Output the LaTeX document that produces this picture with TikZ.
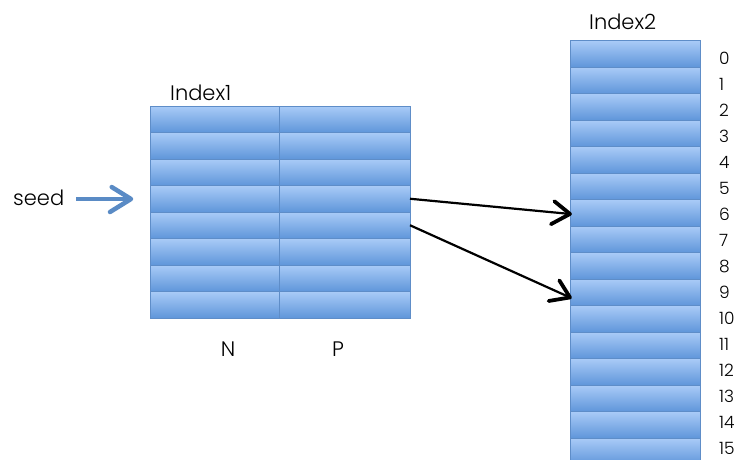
\documentclass[tikz,border=0pt]{standalone}
\usepackage{fontspec}
\setmainfont{Poppins}[UprightFont=* Light]
\usetikzlibrary{decorations.markings}
\definecolor{celltop}{HTML}{A9CBF7}
\definecolor{cellbot}{HTML}{5F96DA}
\definecolor{celledge}{HTML}{5E8DC8}
\definecolor{seedblue}{HTML}{5A8BC5}
\tikzset{
  cell/.style={draw=celledge, line width=1pt, top color=celltop, bottom color=cellbot, minimum width=130pt, minimum height=26.5pt, inner sep=0pt, outer sep=0pt, anchor=north west},
  lbl/.style={font=\fontsize{21}{24}\selectfont, text=black, inner sep=0pt, anchor=base west},
  num/.style={font=\fontsize{17}{18}\selectfont, text=black, inner sep=0pt, anchor=base west},
  chev/.style n args={3}{postaction={decorate, decoration={markings, mark=at position 1 with {\draw[line width=#3, line cap=round, line join=round] (-#1,-#2) -- (0pt,0pt) -- (-#1,#2);}}}},
  link/.style={line width=2.2pt, shorten >=1.5pt, chev={18pt}{12pt}{3.8pt}},
}
\begin{document}
\begin{tikzpicture}[x=1pt,y=-1pt]
\useasboundingbox (0,0) rectangle (744,460);
\fill[white] (0,0) rectangle (744,460);
% Index1
\foreach \r in {0,...,7}{
  \node[cell, minimum width=129pt] (n\r) at (150,{106+26.5*\r}) {};
  \node[cell, minimum width=131pt] (p\r) at (279,{106+26.5*\r}) {};
}
\node[lbl] (idx1) at (170,100.5) {Index1};
\node[lbl, anchor=base] (N) at (228,356) {N};
\node[lbl, anchor=base] (P) at (338,356) {P};
% Index2
\foreach \r in {0,...,15}{
  \node[cell] (q\r) at (570,{40.7+26.5*\r}) {};
  \node[num] (k\r) at (719,{64+26*\r}) {\r};
}
\node[lbl] (idx2) at (589,30) {Index2};
% seed
\node[lbl] (seed) at (13,205) {seed};
\coordinate (seedtip) at (131,199);
\draw[seedblue, line width=4.5pt, shorten >=2pt, chev={21pt}{13pt}{4.5pt}] (seed.east |- seedtip) ++(12,0) -- (seedtip);
% links
\draw[link] (p3.east) -- ([yshift=-1pt]q6.west);
\draw[link] (p4.east) -- ([yshift=-5pt]q9.west);
\end{tikzpicture}
\end{document}
